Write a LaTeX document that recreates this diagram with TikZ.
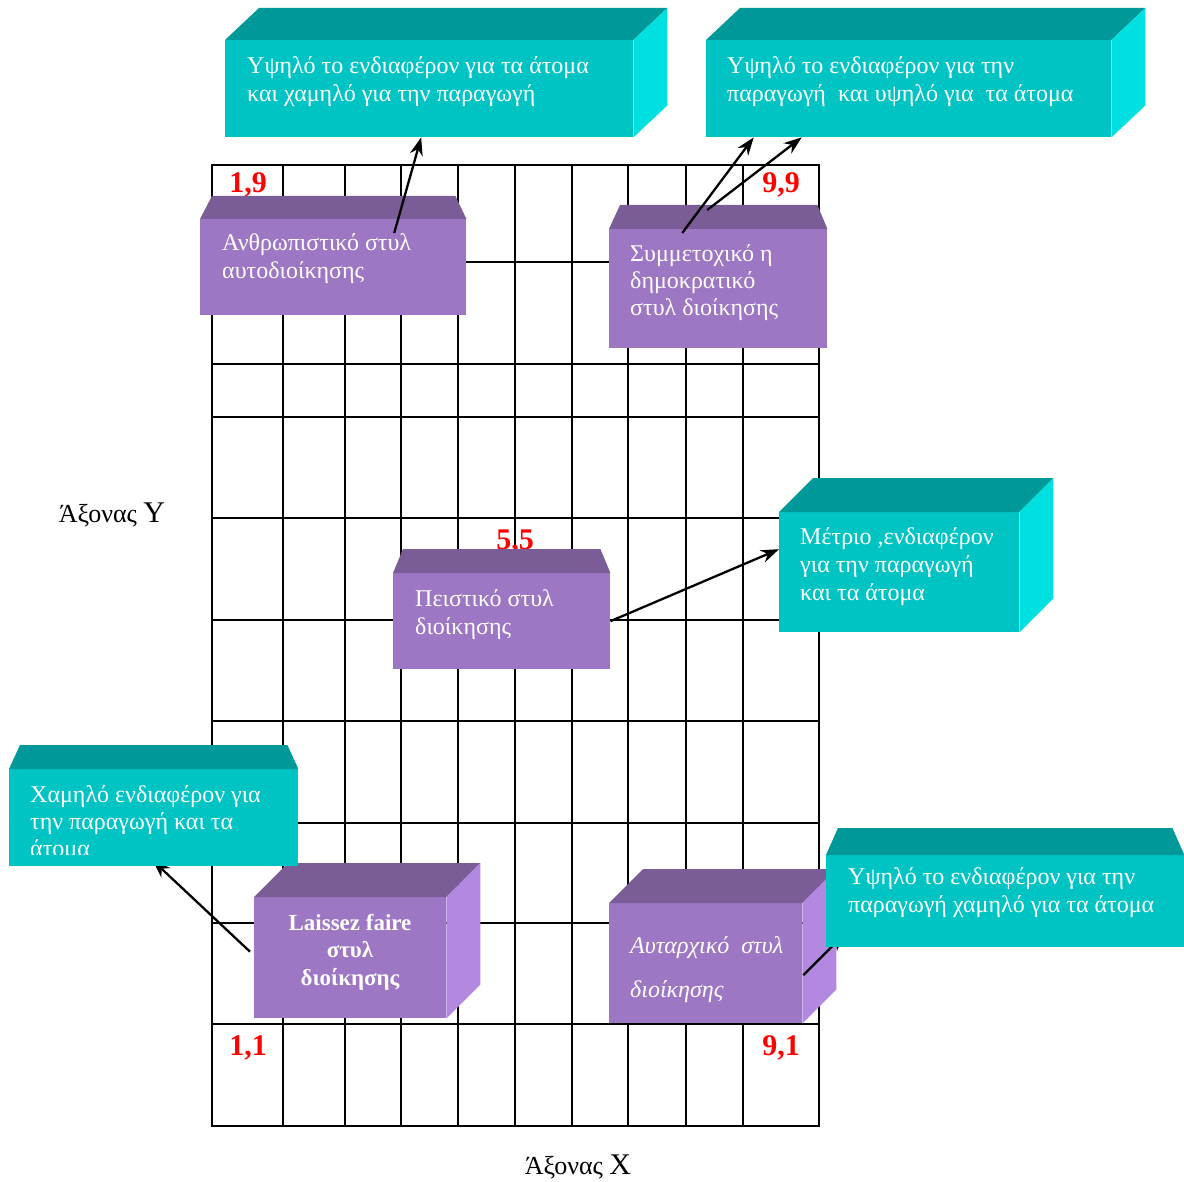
\documentclass[tikz,border=0pt]{standalone}
\usepackage{fontspec}
\setmainfont{Liberation Serif}
\usetikzlibrary{calc,arrows.meta}

\definecolor{tealfront}{RGB}{0,196,196}
\definecolor{tealtop}{RGB}{0,152,152}
\definecolor{tealside}{RGB}{0,224,224}
\definecolor{lilacfront}{RGB}{158,119,196}
\definecolor{lilactop}{RGB}{122,92,150}
\definecolor{lilacside}{RGB}{178,136,224}

\pgfdeclarelayer{front}
\pgfsetlayers{main,front}

\begin{document}
\begin{tikzpicture}[x=1pt,y=-1pt,
  gridline/.style={line width=2.3pt},
  tealface/.style={fill=tealfront, inner sep=0pt, anchor=north west},
  lilacface/.style={fill=lilacfront, inner sep=0pt, anchor=north west},
  boxtext/.style={text=white, align=left, anchor=base west, inner sep=0pt,
    font=\fontsize{24}{28}\selectfont},
  corner/.style={text=red, anchor=base, inner sep=0pt,
    font=\bfseries\fontsize{30}{30}\selectfont},
  axis/.style={anchor=base, inner sep=0pt, font=\fontsize{26}{26}\selectfont},
  arrow/.style={line width=2.3pt, -{Stealth[length=18pt,width=13pt]}}]

 \useasboundingbox (0,0) rectangle (1184,1182);

% Grid
 \foreach \gx in {283,345,401,458,515,572,628,686,743}
   \draw[gridline] (\gx,165) -- (\gx,1126);
 \foreach \gy in {262,364,417,518,620,721,823,923,1024}
   \draw[gridline] (212,\gy) -- (819,\gy);
 \draw[gridline] (212,165) rectangle (819,1126);

% Corner values
 \node[corner] (c19) at (248,193) {1,9};
 \node[corner] (c99) at (781,193) {9,9};
 \node[corner] (c55) at (515,549) {5,5};
 \node[corner] (c11) at (248,1055) {1,1};
 \node[corner] (c91) at (781,1055) {9,1};

% Axis names (the multi-line texts below sit on their last baseline)
 \node[axis] (yaxis) at (112,522) {Άξονας {\fontsize{30}{30}\selectfont Y}};
 \node[axis] (xaxis) at (578,1174) {Άξονας {\fontsize{30}{30}\selectfont X}};

% Purple boxes
 \node[lilacface, minimum width=266pt, minimum height=96pt] (hum) at (200,219) {};
 \fill[lilactop] (hum.north west) -- ++(12,-23) -- ($(hum.north east)+(-11,-23)$) -- (hum.north east) -- cycle;
 \node[boxtext] (humTxt) at (222,279) {Ανθρωπιστικό στυλ\\αυτοδιοίκησης};

 \node[lilacface, minimum width=218pt, minimum height=119pt] (dem) at (609,229) {};
 \fill[lilactop] (dem.north west) -- ++(11,-24) -- ($(dem.north east)+(-10,-24)$) -- (dem.north east) -- cycle;
 \node[boxtext, font=\fontsize{24}{27}\selectfont] (demTxt) at (630,316) {Συμμετοχικό η\\δημοκρατικό\\στυλ διοίκησης};

 \node[lilacface, minimum width=217pt, minimum height=96pt] (pers) at (393,573) {};
 \fill[lilactop] (pers.north west) -- ++(10,-24) -- ($(pers.north east)+(-10,-24)$) -- (pers.north east) -- cycle;
 \node[boxtext] (persTxt) at (415,634) {Πειστικό στυλ\\διοίκησης};

 \node[lilacface, minimum width=192pt, minimum height=121pt] (laissez) at (254,897) {};
 \fill[lilactop] (laissez.north west) -- ++(34,-34) -- ($(laissez.north east)+(34,-34)$) -- (laissez.north east) -- cycle;
 \fill[lilacside] (laissez.north east) -- ++(34,-34) -- ($(laissez.south east)+(34,-34)$) -- (laissez.south east) -- cycle;
 \node[boxtext, align=center, anchor=base, font=\bfseries\fontsize{23}{27.5}\selectfont] (laissezTxt) at (350,985) {Laissez faire\\στυλ\\διοίκησης};

 \node[lilacface, minimum width=193pt, minimum height=120pt] (autoc) at (609,903) {};
 \fill[lilactop] (autoc.north west) -- ++(34,-34) -- ($(autoc.north east)+(34,-34)$) -- (autoc.north east) -- cycle;
 \fill[lilacside] (autoc.north east) -- ++(34,-34) -- ($(autoc.south east)+(34,-34)$) -- (autoc.south east) -- cycle;
 \node[boxtext, font=\itshape\fontsize{24}{44}\selectfont] (autocTxt) at (630,997) {Αυταρχικό\ \ στυλ\\διοίκησης};

% Teal boxes
 \node[tealface, minimum width=408pt, minimum height=97pt] (hiPeople) at (225,40) {};
 \fill[tealtop] (hiPeople.north west) -- ++(34,-32) -- ($(hiPeople.north east)+(34,-32)$) -- (hiPeople.north east) -- cycle;
 \fill[tealside] (hiPeople.north east) -- ++(34,-32) -- ($(hiPeople.south east)+(34,-32)$) -- (hiPeople.south east) -- cycle;
 \node[boxtext] (hiPeopleTxt) at (247,102) {Υψηλό το ενδιαφέρον για τα άτομα\\και χαμηλό για την παραγωγή};

 \node[tealface, minimum width=405pt, minimum height=97pt] (hiBoth) at (706,40) {};
 \fill[tealtop] (hiBoth.north west) -- ++(34,-32) -- ($(hiBoth.north east)+(34,-32)$) -- (hiBoth.north east) -- cycle;
 \fill[tealside] (hiBoth.north east) -- ++(34,-32) -- ($(hiBoth.south east)+(34,-32)$) -- (hiBoth.south east) -- cycle;
 \node[boxtext] (hiBothTxt) at (727,102) {Υψηλό το ενδιαφέρον για την\\παραγωγή\ \ και υψηλό για\ \ τα άτομα};

 \node[tealface, minimum width=240pt, minimum height=120pt] (mid) at (779,512) {};
 \fill[tealtop] (mid.north west) -- ++(34,-34) -- ($(mid.north east)+(34,-34)$) -- (mid.north east) -- cycle;
 \fill[tealside] (mid.north east) -- ++(34,-34) -- ($(mid.south east)+(34,-34)$) -- (mid.south east) -- cycle;
 \node[boxtext] (midTxt) at (800,600) {Μέτριο ,ενδιαφέρον\\για την παραγωγή\\και τα άτομα};

% Low teal boxes, on the front layer over the connectors
 \begin{pgfonlayer}{front}
 \node[tealface, minimum width=289pt, minimum height=97pt] (low) at (9,769) {};
 \fill[tealtop] (low.north west) -- ++(11,-24) -- ($(low.north east)+(-11,-24)$) -- (low.north east) -- cycle;
 \begin{scope}
  \clip (9,769) rectangle (298,854); % last line is cut off
  \node[boxtext, font=\fontsize{24}{27}\selectfont] (lowTxt) at (30,856) {Χαμηλό ενδιαφέρον για\\την παραγωγή και τα\\άτομα};
 \end{scope}

 \node[tealface, minimum width=358pt, minimum height=92pt] (hiProd) at (826,855) {};
 \fill[tealtop] (hiProd.north west) -- ++(12,-27) -- ($(hiProd.north east)+(-12,-27)$) -- (hiProd.north east) -- cycle;
 \node[boxtext] (hiProdTxt) at (848,912) {Υψηλό το ενδιαφέρον για την\\παραγωγή χαμηλό για τα άτομα};
 \end{pgfonlayer}

% Connectors
 \draw[arrow] ($(hum.north)+(61,14)$) -- ($(hiPeople.south)+(-8,0)$);
 \draw[arrow] ($(dem.north)+(-36,4)$) -- ($(hiBoth.south)+(-155,0)$);
 \draw[arrow] ($(dem.north)+(-11,-19)$) -- ($(hiBoth.south)+(-107,0)$);
 \draw[arrow] (pers.east) -- ($(mid.west)+(0,-23)$);
 \draw[arrow] ($(laissez.west)+(-4,-6)$) -- ($(low.south)+(-1,-6)$);
 \draw[arrow] ($(autoc.east)+(1,12)$) -- ($(hiProd.south west)+(19,-14)$);

\end{tikzpicture}
\end{document}
